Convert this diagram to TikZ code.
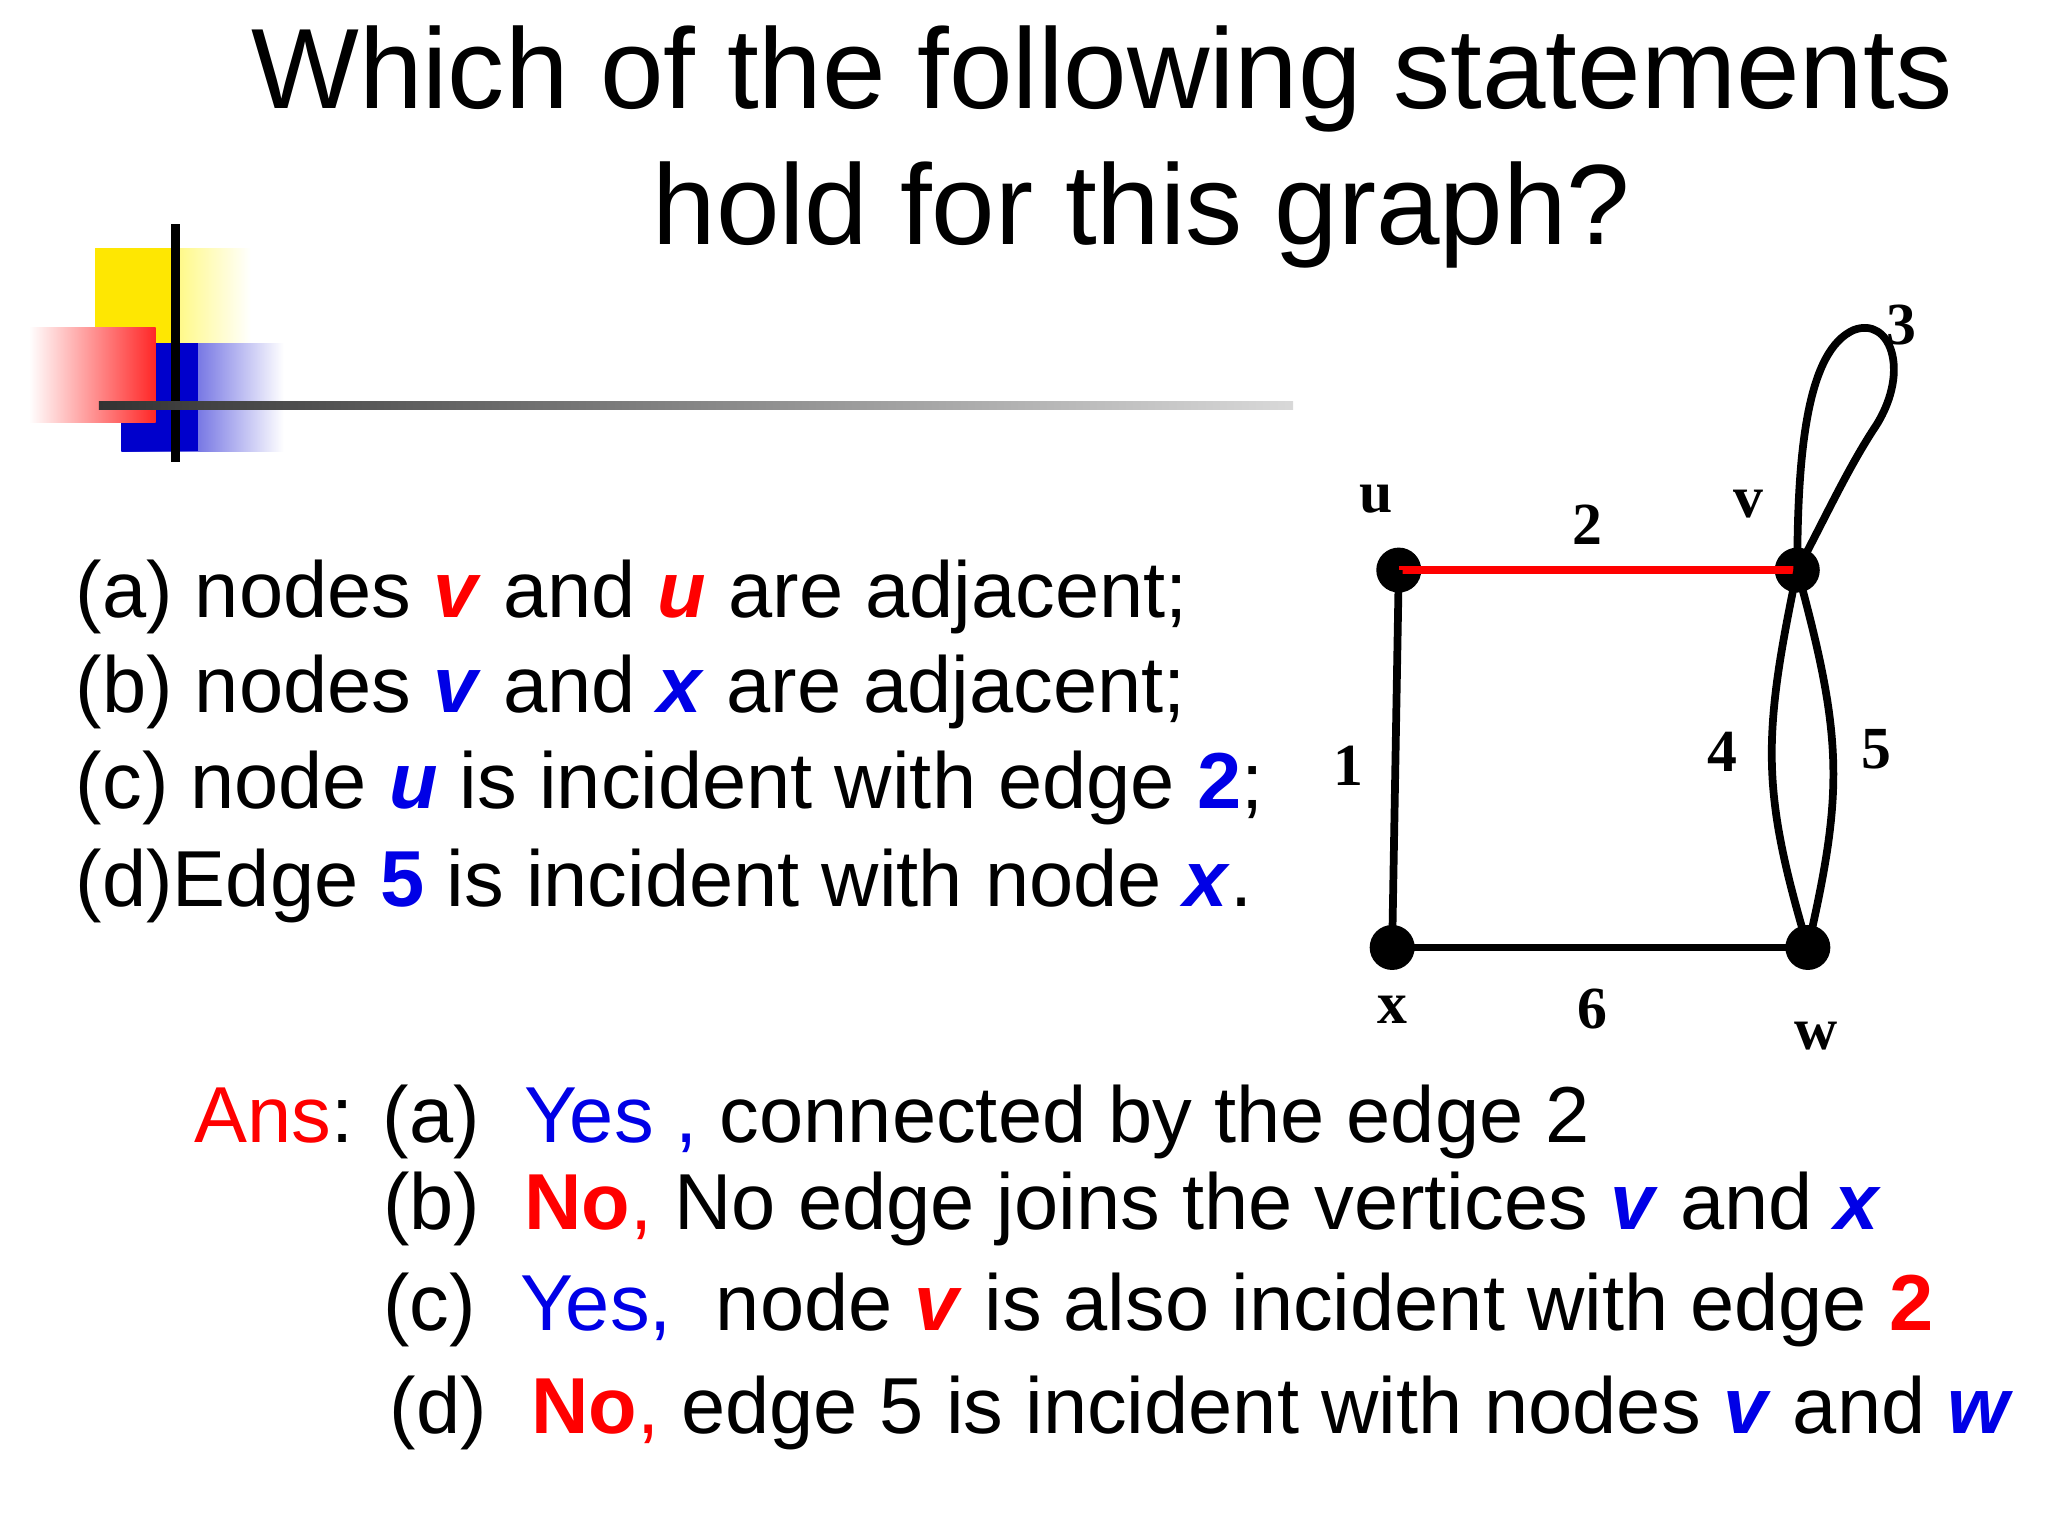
\documentclass[tikz,border=0pt]{standalone}
\usepackage{fontspec}
\setmainfont{Liberation Sans}
\newfontfamily\gfont{Liberation Serif}
\begin{document}
\begin{tikzpicture}[x=0.013196cm,y=-0.013196cm,
  txt/.style={anchor=base west,inner sep=0pt,font=\fontsize{22.6}{26}\selectfont},
  ttl/.style={anchor=base,inner sep=0pt,font=\fontsize{32.5}{38}\selectfont},
  dot/.style={circle,fill=black,inner sep=0pt,minimum size=0.45cm},
  gl/.style={font=\gfont\bfseries\fontsize{17}{19}\selectfont,inner sep=0pt},
  ed/.style={line width=2.2pt}]
\useasboundingbox (0,0) rectangle (1552,1164);
\definecolor{rd}{RGB}{255,0,0}\definecolor{bl}{RGB}{0,0,230}
\colorlet{R}{rd}\colorlet{B}{bl}
% logo
\shade[left color=yellow!90!orange,right color=white] (72,188) rectangle (190,290);
\shade[left color=blue!80!black,right color=white] (92,260) rectangle (215,342);
\fill[yellow!90!orange] (72,188) rectangle (130,290);
\fill[blue!80!black] (118,260) rectangle (150,342);
\fill[blue!80!black] (92,320) rectangle (150,342);
\shade[left color=white,right color=red!85] (22,248) rectangle (118,320);
\draw[line width=2.5pt] (133,170) -- (133,350);
\shade[left color=black!80,right color=black!15] (75,304) rectangle (980,310);
% title
\node[ttl] (t1) at (835,82) {Which of the following statements};
\node[ttl] (t2) at (865,185) {hold for this graph?};
% statements
\node[txt] (sa) at (57,468) {(a) nodes \textcolor{R}{\textbf{\textit{v}}} and \textcolor{R}{\textbf{\textit{u}}} are adjacent;};
\node[txt] (sb) at (57,540) {(b) nodes \textcolor{B}{\textbf{\textit{v}}} and \textcolor{B}{\textbf{\textit{x}}} are adjacent;};
\node[txt] (sc) at (57,613) {(c) node \textcolor{B}{\textbf{\textit{u}}} is incident with edge \textcolor{B}{\textbf{2}};};
\node[txt] (sd) at (57,687) {(d)Edge \textcolor{B}{\textbf{5}} is incident with node \textcolor{B}{\textbf{\textit{x}}}.};
% answers
\node[txt] (aa) at (147,866) {\textcolor{R}{Ans}: (a)\ \ \textcolor{B}{Yes ,} connected by the edge 2};
\node[txt] (ab) at (290,932) {(b)\ \ \textcolor{R}{\textbf{No},} No edge joins the vertices \textcolor{B}{\textbf{\textit{v}}} and \textcolor{B}{\textbf{\textit{x}}}};
\node[txt] (ac) at (290,1008) {(c)\ \ \textcolor{B}{Yes,}\ \ node \textcolor{R}{\textbf{\textit{v}}} is also incident with edge \textcolor{R}{\textbf{2}}};
\node[txt] (ad) at (295,1086) {(d)\ \ \textcolor{R}{\textbf{No},} edge 5 is incident with nodes \textcolor{B}{\textbf{\textit{v}}} and \textcolor{B}{\textbf{\textit{w}}}};
% graph
\node[dot] (u) at (1060,432) {};
\node[dot] (v) at (1362,432) {};
\node[dot] (x) at (1055,718) {};
\node[dot] (w) at (1370,718) {};
\draw[ed,red] (u.center) -- (v.center);
\draw[ed] (u.center) -- (x.center);
\draw[ed] (x.center) -- (w.center);
\draw[ed] (v.center) .. controls (1335,560) and (1335,600) .. (w.center);
\draw[ed] (v.center) .. controls (1397,560) and (1397,600) .. (w.center);
\draw[ed] (v.center) .. controls (1362,340) and (1370,265) .. (1405,250) .. controls (1432,240) and (1448,280) .. (1422,322) .. controls (1400,355) and (1382,395) .. (v.center);
\node[gl] (lu) at (1043,378) {u};
\node[gl] (l2) at (1203,398) {2};
\node[gl] (lv) at (1325,382) {v};
\node[gl] (l3) at (1441,246) {3};
\node[gl] (l1) at (1022,580) {1};
\node[gl] (l4) at (1305,570) {4};
\node[gl] (l5) at (1422,568) {5};
\node[gl] (lx) at (1055,765) {x};
\node[gl] (l6) at (1207,765) {6};
\node[gl] (lw) at (1376,785) {w};
\end{tikzpicture}
\end{document}
